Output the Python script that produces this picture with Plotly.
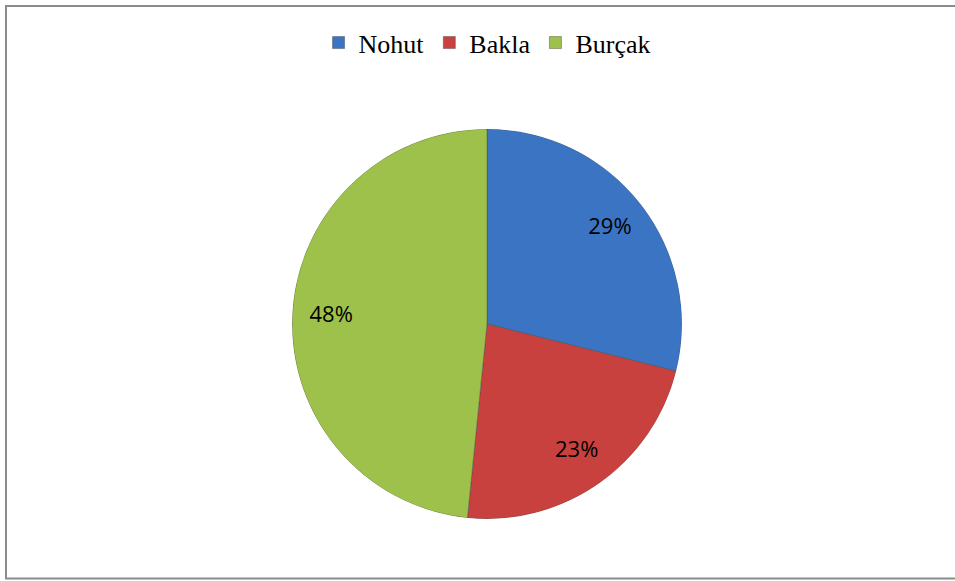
import plotly.graph_objects as go

categories = ["Nohut", "Bakla", "Burçak"]
values = [28.9, 22.7, 48.4]
colors = ["#3B74C2", "#C9413F", "#9DC14A"]

total = sum(values)
mid_angles, widths = [], []
cum = 0.0
for v in values:
    widths.append(v / total * 360)
    mid_angles.append((cum + v / 2) / total * 360)
    cum += v
pct_labels = [f"{round(v / total * 100)}%" for v in values]

dom = dict(x=[0.3058, 0.7141], y=[0.1067, 0.7780])

fig = go.Figure()
for name, th, w, c in zip(categories, mid_angles, widths, colors):
    fig.add_trace(go.Barpolar(
        r=[1], theta=[th], width=[w], name=name,
        marker=dict(color=c, line=dict(color="rgba(70,70,70,0.45)", width=1)),
        hoverinfo="name",
    ))
fig.add_trace(go.Scatterpolar(
    r=[0.8] * len(values),
    theta=mid_angles,
    mode="text",
    text=pct_labels,
    textfont=dict(family="Open Sans, Liberation Sans, sans-serif", size=22, color="black"),
    showlegend=False,
    hoverinfo="skip",
))

fig.update_layout(
    width=955, height=581,
    margin=dict(l=0, r=0, t=0, b=0),
    paper_bgcolor="white",
    plot_bgcolor="white",
    showlegend=True,
    polar=dict(
        domain=dom,
        bgcolor="rgba(0,0,0,0)",
        bargap=0,
        radialaxis=dict(visible=False, range=[0, 1], showgrid=False),
        angularaxis=dict(visible=False, rotation=90, direction="clockwise", showgrid=False),
    ),
    legend=dict(
        orientation="h",
        x=0.51, xanchor="center",
        y=0.967, yanchor="top",
        font=dict(family="Liberation Serif, Times New Roman, serif", size=26, color="black"),
        itemwidth=30,
        tracegroupgap=0,
    ),
    shapes=[dict(
        type="rect", xref="paper", yref="paper",
        x0=6/955, x1=1.02, y0=1 - 578.5/581, y1=1 - 6/581,
        line=dict(color="#8c8c8c", width=2),
        fillcolor="rgba(0,0,0,0)",
        layer="above",
    )],
)

fig.write_html("out.html", config={"displayModeBar": False},
               post_script="document.body.style.margin='0px';")
